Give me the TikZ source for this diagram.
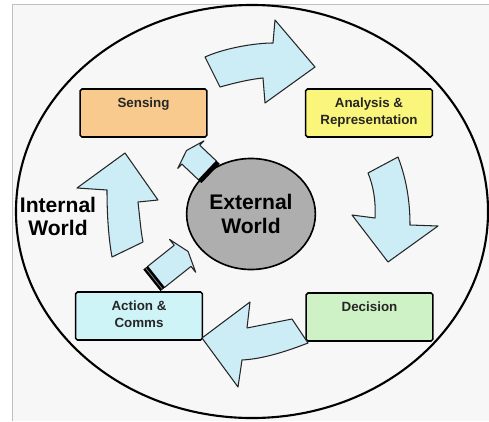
\documentclass[tikz,border=0pt]{standalone}
\usepackage{fontspec}
\setmainfont{Liberation Sans}
\usetikzlibrary{positioning,shapes.geometric}

\definecolor{senseorange}{RGB}{248,202,142}
\definecolor{analysisyellow}{RGB}{250,246,124}
\definecolor{decisiongreen}{RGB}{206,242,198}
\definecolor{actioncyan}{RGB}{206,244,248}
\definecolor{flowblue}{RGB}{204,236,246}
\definecolor{worldgray}{RGB}{174,174,174}
\definecolor{pagegray}{RGB}{247,247,247}

\begin{document}
\begin{tikzpicture}[
    x=0.03cm, y=-0.03cm,
    font=\bfseries,
    stage/.style={draw=black,line width=1.3pt,rounded corners=1.5pt,fill=#1,minimum width=3.8cm,minimum height=1.44cm,inner sep=0pt},
    stagetext/.style={anchor=north,align=center,inner sep=0pt,font=\fontsize{11.4}{14}\selectfont\bfseries,text=black!85},
    world/.style={align=center,font=\fontsize{18}{20}\selectfont\bfseries},
    bigflow/.style={draw=black!85,line width=0.9pt,fill=flowblue,line join=round},
    tailband/.style={fill=black,draw=black,line width=0.4pt}
  ]
    \useasboundingbox (0,0) rectangle (489,421);
    \fill[white] (0,0) rectangle (489,421);
    \fill[pagegray] (12,4) rectangle (489,421);
    \draw[black!25,line width=0.6pt] (12,421) -- (12,4) -- (489,4);

    % outer boundary and the world in the middle
    \node[draw,ellipse,line width=1.8pt,minimum width=14.16cm,minimum height=12.39cm] (internal) at (252,211.5) {};
    \node[world,draw,ellipse,line width=1.4pt,fill=worldgray,minimum width=3.84cm,minimum height=3.33cm] (external) at (251,214) {External\\World};
    \node[world] (internallbl) at (58,216.5) {Internal\\World};

    % the four stages
    \node[stage=senseorange] (sensing) at (143.5,113) {};
    \node[stagetext] (sensinglbl) at ([yshift=-0.29cm]sensing.north) {Sensing};

    \node[stage=analysisyellow] (analysis) at (369,113) {};
    \node[stagetext] (analysislbl) at ([yshift=-0.29cm]analysis.north) {Analysis \&\\Representation};

    \node[stage=decisiongreen] (decision) at (369.5,317) {};
    \node[stagetext] (decisionlbl) at ([yshift=-0.29cm]decision.north) {Decision};

    \node[stage=actioncyan] (action) at (139,316) {};
    \node[stagetext] (actionlbl) at ([yshift=-0.29cm]action.north) {Action \&\\Comms};

    % sensing -> analysis
    \draw[bigflow] (205,57) -- (220,87) .. controls (238,82) and (252,79) .. (263,78)
      -- (265,103) -- (315,67) -- (275,20) -- (273,43) .. controls (255,43) and (225,48) .. cycle;
    % analysis -> decision
    \draw[bigflow] (368,173) -- (398,157) .. controls (406,178) and (410,200) .. (410,225)
      -- (438,226) -- (388,262) -- (352,215) -- (375,218) .. controls (376,200) and (373,185) .. cycle;
    % decision -> action
    \draw[bigflow] (202,338) -- (250,302) -- (247,328) -- (292,319) -- (308,343)
      .. controls (285,352) and (262,359) .. (242,360) -- (238,387) -- cycle;
    % action -> sensing
    \draw[bigflow] (125,153) -- (158,200) -- (138,202) .. controls (140,220) and (141,232) .. (143,242)
      -- (112,257) .. controls (108,235) and (107,210) .. (107,190) -- (77,188) -- cycle;

    % external world -> sensing
    \begin{scope}[shift={(207.5,170.5)},rotate=136.5]
      \draw[bigflow] (0,-13) -- (23,-13) -- (23,-19) -- (29,0) -- (23,19) -- (23,13) -- (0,13) -- cycle;
      \draw[tailband] (-4,-13) -- (0,-13) -- (0,13) -- (-4,13) -- cycle;
    \end{scope}
    % action -> external world
    \begin{scope}[shift={(156,277)},rotate=38.5]
      \draw[bigflow] (0,-13.5) -- (34,-13.5) -- (34,-21) -- (41,0) -- (34,21) -- (34,13.5) -- (0,13.5) -- cycle;
      \draw[tailband] (-5,-13.5) -- (0,-13.5) -- (0,13.5) -- (-5,13.5) -- cycle;
      \draw[black!45,line width=0.6pt] (-2.5,-13) -- (-2.5,13);
    \end{scope}
\end{tikzpicture}
\end{document}
